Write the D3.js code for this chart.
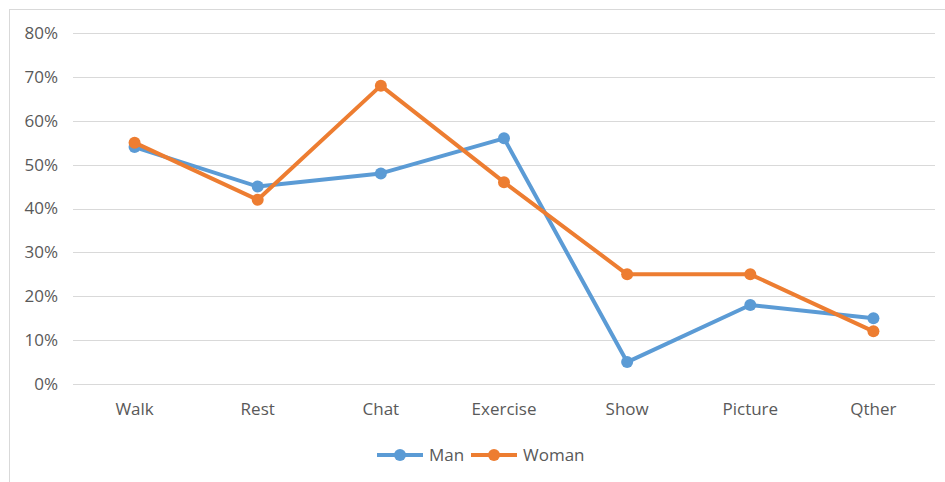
<!DOCTYPE html>
<html>
<head>
<meta charset="utf-8">
<script src="https://cdn.jsdelivr.net/npm/d3@7"></script>
<style>
  html, body { margin: 0; padding: 0; background: #fff; }
  svg { display: block; }
  text { font-family: "Open Sans", "Liberation Sans", sans-serif; fill: #595959; }
</style>
</head>
<body>
<svg id="chart" width="945" height="482"></svg>
<script>
// Activity categories and share of respondents per gender
const categories = ["Walk", "Rest", "Chat", "Exercise", "Show", "Picture", "Qther"];
const manValues = [0.54, 0.45, 0.48, 0.56, 0.05, 0.18, 0.15];
const womanValues = [0.55, 0.42, 0.68, 0.46, 0.25, 0.25, 0.12];
const yTicks = [0, 0.1, 0.2, 0.3, 0.4, 0.5, 0.6, 0.7, 0.8];
const seriesNames = ["Man", "Woman"];
const seriesColors = ["#5B9BD5", "#ED7D31"];

const svg = d3.select("#chart");
const FONT = 17;
const LINE_W = 4;
const DOT_R = 6;

// chart frame
svg.append("rect")
  .attr("x", 9.5).attr("y", 9.5)
  .attr("width", 960).attr("height", 500)
  .attr("fill", "#fff").attr("stroke", "#d9d9d9").attr("stroke-width", 1);

const plot = { left: 73, right: 935, top: 33, bottom: 384 };

const x = d3.scaleBand().domain(categories).range([plot.left, plot.right]);
const y = d3.scaleLinear().domain([0, 0.8]).range([plot.bottom, plot.top]);

// horizontal gridlines
svg.append("g")
  .selectAll("line")
  .data(yTicks)
  .join("line")
  .attr("x1", plot.left).attr("x2", plot.right)
  .attr("y1", d => Math.round(y(d)) + 0.5).attr("y2", d => Math.round(y(d)) + 0.5)
  .attr("stroke", "#d9d9d9").attr("stroke-width", 1);

// y axis labels
const yAxis = d3.axisLeft(y).tickValues(yTicks).tickFormat(d3.format(".0%")).tickSize(0).tickPadding(15);
const gy = svg.append("g").attr("transform", `translate(${plot.left},0)`).call(yAxis);
gy.select(".domain").remove();
gy.selectAll("text").attr("font-size", FONT).attr("fill", "#595959")
  .style("font-family", "'Open Sans', sans-serif");

// x axis labels
const xAxis = d3.axisBottom(x).tickSize(0).tickPadding(19);
const gx = svg.append("g").attr("transform", `translate(0,${plot.bottom})`).call(xAxis);
gx.select(".domain").remove();
gx.selectAll("text").attr("font-size", FONT).attr("fill", "#595959")
  .style("font-family", "'Open Sans', sans-serif");

// series lines and markers
const cx = c => x(c) + x.bandwidth() / 2;
const line = d3.line().x((d, i) => cx(categories[i])).y(d => y(d));
[manValues, womanValues].forEach((vals, s) => {
  const g = svg.append("g");
  g.append("path")
    .datum(vals)
    .attr("d", line)
    .attr("fill", "none")
    .attr("stroke", seriesColors[s])
    .attr("stroke-width", LINE_W)
    .attr("stroke-linejoin", "round")
    .attr("stroke-linecap", "round");
  g.selectAll("circle")
    .data(vals)
    .join("circle")
    .attr("cx", (d, i) => cx(categories[i]))
    .attr("cy", d => y(d))
    .attr("r", DOT_R)
    .attr("fill", seriesColors[s]);
});

// legend
const legendItems = [
  { name: seriesNames[0], color: seriesColors[0], x0: 377 },
  { name: seriesNames[1], color: seriesColors[1], x0: 471 }
];
const ly = 455;
legendItems.forEach(it => {
  const g = svg.append("g");
  g.append("line").attr("x1", it.x0).attr("x2", it.x0 + 46)
    .attr("y1", ly).attr("y2", ly)
    .attr("stroke", it.color).attr("stroke-width", LINE_W);
  g.append("circle").attr("cx", it.x0 + 23).attr("cy", ly).attr("r", DOT_R).attr("fill", it.color);
  g.append("text").attr("x", it.x0 + 52).attr("y", ly).attr("dy", "0.35em")
    .attr("font-size", FONT).text(it.name);
});
</script>
</body>
</html>
